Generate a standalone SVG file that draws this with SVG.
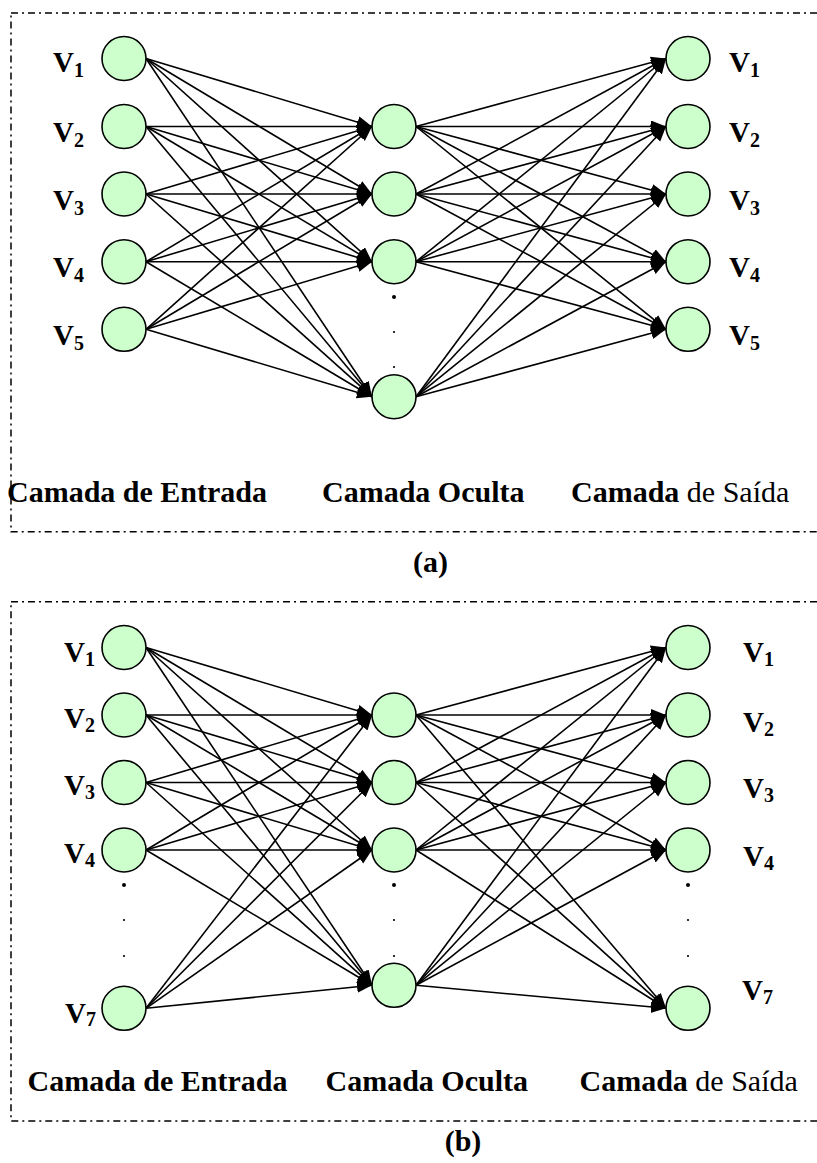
<svg xmlns="http://www.w3.org/2000/svg" width="817" height="1163" viewBox="0 0 817 1163">
<style>
.frame{fill:none;stroke:#000;stroke-width:1.5;stroke-dasharray:7,4,2,4}
.nd{fill:#CCFFCC;stroke:#000;stroke-width:1.6}
.dot{fill:#000}
.e line{stroke:#000;stroke-width:1.6;marker-end:url(#ah)}
.v{font-family:"Liberation Serif","Times New Roman",serif;font-weight:bold;font-size:29px;fill:#000}
.sub{font-size:20px}
.lbl{font-family:"Liberation Serif","Times New Roman",serif;font-weight:bold;font-size:30px;fill:#000}
.reg{font-weight:normal}
</style>
<defs>
<marker id="ah" markerUnits="userSpaceOnUse" markerWidth="17" markerHeight="13" refX="15" refY="6" orient="auto">
<path d="M0,0 L15,6 L0,12 z" fill="#000"/>
</marker>
</defs>
<rect width="817" height="1163" fill="#fff"/>
<rect class="frame" x="11" y="13" width="900" height="518.7"/>
<rect class="frame" x="11" y="601.7" width="900" height="519.3"/>

<g id="connectors-a" class="e">
<line x1="146" y1="58.5" x2="372" y2="126.5"/>
<line x1="146" y1="58.5" x2="372" y2="194"/>
<line x1="146" y1="58.5" x2="372" y2="261.7"/>
<line x1="146" y1="58.5" x2="372" y2="396.7"/>
<line x1="146" y1="126.5" x2="372" y2="126.5"/>
<line x1="146" y1="126.5" x2="372" y2="194"/>
<line x1="146" y1="126.5" x2="372" y2="261.7"/>
<line x1="146" y1="126.5" x2="372" y2="396.7"/>
<line x1="146" y1="194" x2="372" y2="126.5"/>
<line x1="146" y1="194" x2="372" y2="194"/>
<line x1="146" y1="194" x2="372" y2="261.7"/>
<line x1="146" y1="194" x2="372" y2="396.7"/>
<line x1="146" y1="261.7" x2="372" y2="126.5"/>
<line x1="146" y1="261.7" x2="372" y2="194"/>
<line x1="146" y1="261.7" x2="372" y2="261.7"/>
<line x1="146" y1="261.7" x2="372" y2="396.7"/>
<line x1="146" y1="329.3" x2="372" y2="126.5"/>
<line x1="146" y1="329.3" x2="372" y2="194"/>
<line x1="146" y1="329.3" x2="372" y2="261.7"/>
<line x1="146" y1="329.3" x2="372" y2="396.7"/>
<line x1="416" y1="126.5" x2="666" y2="58.5"/>
<line x1="416" y1="126.5" x2="666" y2="126.5"/>
<line x1="416" y1="126.5" x2="666" y2="194"/>
<line x1="416" y1="126.5" x2="666" y2="261.7"/>
<line x1="416" y1="126.5" x2="666" y2="329.3"/>
<line x1="416" y1="194" x2="666" y2="58.5"/>
<line x1="416" y1="194" x2="666" y2="126.5"/>
<line x1="416" y1="194" x2="666" y2="194"/>
<line x1="416" y1="194" x2="666" y2="261.7"/>
<line x1="416" y1="194" x2="666" y2="329.3"/>
<line x1="416" y1="261.7" x2="666" y2="58.5"/>
<line x1="416" y1="261.7" x2="666" y2="126.5"/>
<line x1="416" y1="261.7" x2="666" y2="194"/>
<line x1="416" y1="261.7" x2="666" y2="261.7"/>
<line x1="416" y1="261.7" x2="666" y2="329.3"/>
<line x1="416" y1="396.7" x2="666" y2="58.5"/>
<line x1="416" y1="396.7" x2="666" y2="126.5"/>
<line x1="416" y1="396.7" x2="666" y2="194"/>
<line x1="416" y1="396.7" x2="666" y2="261.7"/>
<line x1="416" y1="396.7" x2="666" y2="329.3"/>
</g>

<g id="connectors-b" class="e">
<line x1="146" y1="647.5" x2="372" y2="715"/>
<line x1="146" y1="647.5" x2="372" y2="782.5"/>
<line x1="146" y1="647.5" x2="372" y2="850"/>
<line x1="146" y1="647.5" x2="372" y2="985.3"/>
<line x1="146" y1="715" x2="372" y2="715"/>
<line x1="146" y1="715" x2="372" y2="782.5"/>
<line x1="146" y1="715" x2="372" y2="850"/>
<line x1="146" y1="715" x2="372" y2="985.3"/>
<line x1="146" y1="782.5" x2="372" y2="715"/>
<line x1="146" y1="782.5" x2="372" y2="782.5"/>
<line x1="146" y1="782.5" x2="372" y2="850"/>
<line x1="146" y1="782.5" x2="372" y2="985.3"/>
<line x1="146" y1="850" x2="372" y2="715"/>
<line x1="146" y1="850" x2="372" y2="782.5"/>
<line x1="146" y1="850" x2="372" y2="850"/>
<line x1="146" y1="850" x2="372" y2="985.3"/>
<line x1="146" y1="1008.3" x2="372" y2="715"/>
<line x1="146" y1="1008.3" x2="372" y2="782.5"/>
<line x1="146" y1="1008.3" x2="372" y2="850"/>
<line x1="146" y1="1008.3" x2="372" y2="985.3"/>
<line x1="416" y1="715" x2="666" y2="647.5"/>
<line x1="416" y1="715" x2="666" y2="715"/>
<line x1="416" y1="715" x2="666" y2="782.5"/>
<line x1="416" y1="715" x2="666" y2="850"/>
<line x1="416" y1="715" x2="666" y2="1008.3"/>
<line x1="416" y1="782.5" x2="666" y2="647.5"/>
<line x1="416" y1="782.5" x2="666" y2="715"/>
<line x1="416" y1="782.5" x2="666" y2="782.5"/>
<line x1="416" y1="782.5" x2="666" y2="850"/>
<line x1="416" y1="782.5" x2="666" y2="1008.3"/>
<line x1="416" y1="850" x2="666" y2="647.5"/>
<line x1="416" y1="850" x2="666" y2="715"/>
<line x1="416" y1="850" x2="666" y2="782.5"/>
<line x1="416" y1="850" x2="666" y2="850"/>
<line x1="416" y1="850" x2="666" y2="1008.3"/>
<line x1="416" y1="985.3" x2="666" y2="647.5"/>
<line x1="416" y1="985.3" x2="666" y2="715"/>
<line x1="416" y1="985.3" x2="666" y2="782.5"/>
<line x1="416" y1="985.3" x2="666" y2="850"/>
<line x1="416" y1="985.3" x2="666" y2="1008.3"/>
</g>

<!-- Panel (a) nodes -->
<g id="a-in1"><circle class="nd" cx="124" cy="58.5" r="22"/><text class="v" x="53" y="71.7">V<tspan class="sub" dy="5">1</tspan></text></g>
<g id="a-in2"><circle class="nd" cx="124" cy="126.5" r="22"/><text class="v" x="53" y="141.7">V<tspan class="sub" dy="5">2</tspan></text></g>
<g id="a-in3"><circle class="nd" cx="124" cy="194" r="22"/><text class="v" x="53" y="209.5">V<tspan class="sub" dy="5">3</tspan></text></g>
<g id="a-in4"><circle class="nd" cx="124" cy="261.7" r="22"/><text class="v" x="53" y="276.7">V<tspan class="sub" dy="5">4</tspan></text></g>
<g id="a-in5"><circle class="nd" cx="124" cy="329.3" r="22"/><text class="v" x="53" y="344.5">V<tspan class="sub" dy="5">5</tspan></text></g>

<g id="a-h1"><circle class="nd" cx="394" cy="126.5" r="22"/></g>
<g id="a-h2"><circle class="nd" cx="394" cy="194" r="22"/></g>
<g id="a-h3"><circle class="nd" cx="394" cy="261.7" r="22"/></g>
<g id="a-hdots"><circle class="dot" cx="394" cy="297" r="2"/><circle class="dot" cx="394" cy="332" r="1.1"/><circle class="dot" cx="394" cy="367" r="1.1"/></g>
<g id="a-h4"><circle class="nd" cx="394" cy="396.7" r="22"/></g>

<g id="a-out1"><circle class="nd" cx="688" cy="58.5" r="22"/><text class="v" x="729" y="71.7">V<tspan class="sub" dy="5">1</tspan></text></g>
<g id="a-out2"><circle class="nd" cx="688" cy="126.5" r="22"/><text class="v" x="729" y="141.7">V<tspan class="sub" dy="5">2</tspan></text></g>
<g id="a-out3"><circle class="nd" cx="688" cy="194" r="22"/><text class="v" x="729" y="209.5">V<tspan class="sub" dy="5">3</tspan></text></g>
<g id="a-out4"><circle class="nd" cx="688" cy="261.7" r="22"/><text class="v" x="729" y="276.7">V<tspan class="sub" dy="5">4</tspan></text></g>
<g id="a-out5"><circle class="nd" cx="688" cy="329.3" r="22"/><text class="v" x="729" y="344.5">V<tspan class="sub" dy="5">5</tspan></text></g>

<g id="a-labels">
<text class="lbl" x="7" y="501.7">Camada de Entrada</text>
<text class="lbl" x="322" y="501.7">Camada Oculta</text>
<text class="lbl" x="571" y="501.7">Camada<tspan class="reg"> de Saída</tspan></text>
<text class="lbl" x="430.5" y="572" text-anchor="middle">(a)</text>
</g>

<!-- Panel (b) nodes -->
<g id="b-in1"><circle class="nd" cx="124" cy="647.5" r="22"/><text class="v" x="64" y="661.7">V<tspan class="sub" dy="4">1</tspan></text></g>
<g id="b-in2"><circle class="nd" cx="124" cy="715" r="22"/><text class="v" x="64" y="728.3">V<tspan class="sub" dy="4">2</tspan></text></g>
<g id="b-in3"><circle class="nd" cx="124" cy="782.5" r="22"/><text class="v" x="64" y="795">V<tspan class="sub" dy="4">3</tspan></text></g>
<g id="b-in4"><circle class="nd" cx="124" cy="850" r="22"/><text class="v" x="64" y="863.3">V<tspan class="sub" dy="4">4</tspan></text></g>
<g id="b-indots"><circle class="dot" cx="124" cy="885" r="2"/><circle class="dot" cx="124" cy="920" r="1.1"/><circle class="dot" cx="124" cy="956" r="1.1"/></g>
<g id="b-in7"><circle class="nd" cx="124" cy="1008.3" r="22"/><text class="v" x="65" y="1023.3">V<tspan class="sub" dy="3">7</tspan></text></g>

<g id="b-h1"><circle class="nd" cx="394" cy="715" r="22"/></g>
<g id="b-h2"><circle class="nd" cx="394" cy="782.5" r="22"/></g>
<g id="b-h3"><circle class="nd" cx="394" cy="850" r="22"/></g>
<g id="b-hdots"><circle class="dot" cx="394" cy="885" r="2"/><circle class="dot" cx="394" cy="920" r="1.1"/><circle class="dot" cx="394" cy="956" r="1.1"/></g>
<g id="b-h4"><circle class="nd" cx="394" cy="985.3" r="22"/></g>

<g id="b-out1"><circle class="nd" cx="688" cy="647.5" r="22"/><text class="v" x="743" y="661.7">V<tspan class="sub" dy="4">1</tspan></text></g>
<g id="b-out2"><circle class="nd" cx="688" cy="715" r="22"/><text class="v" x="743" y="731.7">V<tspan class="sub" dy="4">2</tspan></text></g>
<g id="b-out3"><circle class="nd" cx="688" cy="782.5" r="22"/><text class="v" x="743" y="798.3">V<tspan class="sub" dy="4">3</tspan></text></g>
<g id="b-out4"><circle class="nd" cx="688" cy="850" r="22"/><text class="v" x="743" y="866">V<tspan class="sub" dy="4">4</tspan></text></g>
<g id="b-outdots"><circle class="dot" cx="688" cy="885" r="2"/><circle class="dot" cx="688" cy="920" r="1.1"/><circle class="dot" cx="688" cy="956" r="1.1"/></g>
<g id="b-out7"><circle class="nd" cx="688" cy="1008.3" r="22"/><text class="v" x="742" y="1000">V<tspan class="sub" dy="4">7</tspan></text></g>

<g id="b-labels">
<text class="lbl" x="27.5" y="1090.7">Camada de Entrada</text>
<text class="lbl" x="325.5" y="1090.7">Camada Oculta</text>
<text class="lbl" x="579.5" y="1090.7">Camada<tspan class="reg"> de Saída</tspan></text>
<text class="lbl" x="463" y="1151" text-anchor="middle">(b)</text>
</g>
</svg>
